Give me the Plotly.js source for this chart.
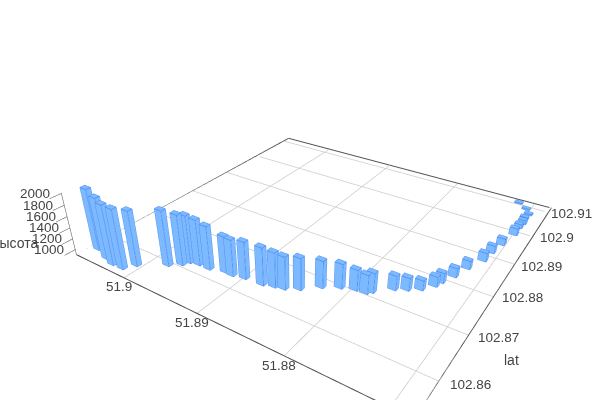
<!DOCTYPE html>
<html><head><meta charset="utf-8"><script src="https://cdn.plot.ly/plotly-3.0.1.min.js"></script></head>
<body style="margin:0;overflow:hidden"><div style="width:600px;height:400px;overflow:hidden"><div id="g" style="width:600px;height:480px"></div></div>
<script>
var lat=[102.8563,102.8553,102.8547,102.8548,102.8566,102.8594,102.8608,102.8619,102.8623,102.8623,102.8631,102.8630,102.8635,102.8637,102.8643,102.8647,102.8659,102.8681,102.8696,102.8704,102.8713,102.8706,102.8737,102.8747,102.8759,102.8779,102.8793,102.8818,102.8850,102.8885,102.8915,102.8948,102.8991,102.9019,102.9036,102.9052,102.9074,102.9091,102.9107];
var lon=[51.9066,51.9044,51.9030,51.9016,51.9008,51.8981,51.8970,51.8966,51.8955,51.8941,51.8923,51.8914,51.8900,51.8879,51.8867,51.8857,51.8844,51.8828,51.8812,51.8798,51.8783,51.8787,51.8767,51.8756,51.8745,51.8736,51.8733,51.8726,51.8720,51.8711,51.8709,51.8705,51.8700,51.8700,51.8699,51.8700,51.8699,51.8705,51.8717];
var height=[2000,1990,1968,1957,1881,1883,1801,1754,1716,1674,1551,1547,1558,1565,1513,1478,1462,1384,1336,1270,1252,1235,1158,1126,1077,1079,1081,1067,1053,1057,1042,1027,1031,976,977,959,925,925,920];
var xt=[102.86,102.87,102.88,102.89,102.9,102.91],yt=[51.88,51.89,51.9],zt_=[1000,1200,1400,1600,1800,2000];
var xlabels=['102.86','102.87','102.88','102.89','102.9','102.91'],ylabels=['51.88','51.89','51.9'],zlabels=['1000','1200','1400','1600','1800','2000'];
var xr=[102.853,102.912],yr=[51.868,51.9075],zr=[900,2010];
var gridy=[51.87].concat(yt);
var eps=1e-5,zf=zr[0]+2;
var gx=[],gy=[],gz=[];
xt.forEach(function(v){gx.push(v,v,null);gy.push(yr[0]+eps,yr[1]-eps,null);gz.push(zf,zf,null)});
gridy.forEach(function(v){gy.push(v,v,null);gx.push(xr[0]+eps,xr[1]-eps,null);gz.push(zf,zf,null)});
var x0=xr[0]+eps,x1=xr[1]-eps,y0=yr[0]+eps,y1=yr[1]-eps;
var ex=[x0,x1,x1,x0,x0],ey=[y1,y1,y0,y0,y1],ez=[zf,zf,zf,zf,zf];
var mx=[],my=[],mz=[],mi=[],mj=[],mk=[],lx=[],ly=[],lz=[];
var hw=0.00045;
lat.forEach(function(xc,n){var o=mx.length,yc=lon[n],zt=height[n],zb=zf;
 var cx=[xc-hw,xc+hw,xc+hw,xc-hw],cy=[yc-hw,yc-hw,yc+hw,yc+hw];
 for(var q=0;q<4;q++){mx.push(cx[q]);my.push(cy[q]);mz.push(zb)}
 for(q=0;q<4;q++){mx.push(cx[q]);my.push(cy[q]);mz.push(zt)}
 [[0,1,5],[0,5,4],[1,2,6],[1,6,5],[2,3,7],[2,7,6],[3,0,4],[3,4,7],[4,5,6],[4,6,7],[0,1,2],[0,2,3]].forEach(function(t){mi.push(o+t[0]);mj.push(o+t[1]);mk.push(o+t[2])});
 for(q=0;q<5;q++){lx.push(cx[q%4]);ly.push(cy[q%4]);lz.push(zt)} lx.push(null);ly.push(null);lz.push(null);
 for(q=0;q<5;q++){lx.push(cx[q%4]);ly.push(cy[q%4]);lz.push(zb)} lx.push(null);ly.push(null);lz.push(null);
 for(q=0;q<4;q++){lx.push(cx[q],cx[q],null);ly.push(cy[q],cy[q],null);lz.push(zb,zt,null)}
});
var tf={family:'Liberation Sans',size:13.5,color:'#444'};
var sa=[];
var xs=[32,30,29,27,24,23],ys=[-3,-2,-1,-2,-1,-1];
xt.forEach(function(v,i){sa.push({x:v,y:yr[0],z:zr[0],text:xlabels[i],showarrow:false,xshift:xs[i],yshift:ys[i],font:tf})});
yt.forEach(function(v,i){sa.push({x:xr[0],y:v,z:zr[0],text:ylabels[i],showarrow:false,xshift:-5,yshift:-9,font:tf})});
zt_.forEach(function(v,i){sa.push({x:xr[0],y:yr[1],z:v,text:zlabels[i],showarrow:false,xanchor:'right',xshift:-9,yshift:0,font:tf})});
var ax={showgrid:false,showline:true,linecolor:'#444',linewidth:1,ticks:'',showticklabels:false,zeroline:false,showspikes:false};
Plotly.newPlot('g',[
{type:'scatter3d',mode:'lines',x:gx,y:gy,z:gz,line:{color:'#ccc',width:1.5},hoverinfo:'skip'},
{type:'scatter3d',mode:'lines',x:ex,y:ey,z:ez,line:{color:'#555',width:2},hoverinfo:'skip'},
{type:'mesh3d',x:mx,y:my,z:mz,i:mi,j:mj,k:mk,color:'rgb(125,185,255)',flatshading:true,lighting:{ambient:1,diffuse:0,specular:0,fresnel:0}},
{type:'scatter3d',mode:'lines',x:lx,y:ly,z:lz,line:{color:'rgb(70,135,240)',width:1.5},hoverinfo:'skip'}],{
width:600,height:480,margin:{l:0,r:0,t:0,b:0},showlegend:false,
font:{family:'Liberation Sans',size:13,color:'#444'},
annotations:[
{text:'lat',xref:'paper',yref:'paper',x:511/600,y:1-360/480,xanchor:'center',yanchor:'middle',showarrow:false,font:{size:14,color:'#444'}},
{text:'высота',xref:'paper',yref:'paper',x:40/600,y:1-243/480,xanchor:'right',yanchor:'middle',showarrow:false,font:{size:14,color:'#444'}}],
scene:{aspectmode:'manual',aspectratio:{x:1,y:1,z:0.19},annotations:sa,
camera:{eye:{x:-1.242,y:-0.744,z:0.7805},center:{x:-0.094,y:0.04,z:-0.095}},
xaxis:Object.assign({},ax,{range:xr,title:{text:''},dtick:0.01}),
yaxis:Object.assign({},ax,{range:yr,title:{text:''},dtick:0.01}),
zaxis:Object.assign({},ax,{range:zr,title:{text:''},dtick:200,ticks:'outside',ticklen:4,tickcolor:'#444'})}
},{displayModeBar:false});
</script></body></html>
